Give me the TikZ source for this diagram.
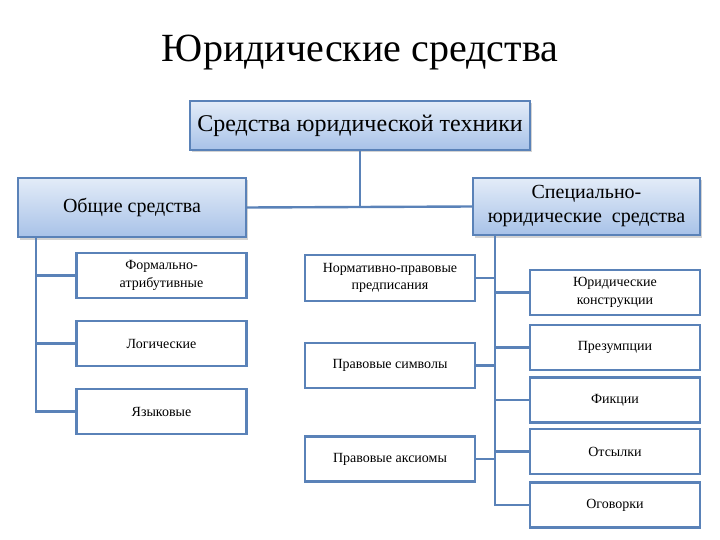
\documentclass[tikz,border=0pt]{standalone}
\usepackage{fontspec}
\setmainfont{Liberation Serif}
\usetikzlibrary{shadows}
\definecolor{lineblue}{HTML}{5A82B8}
\definecolor{gradtop}{HTML}{E3ECF8}
\definecolor{gradbot}{HTML}{A8C2E8}
\tikzset{
  bigbox/.style={draw=lineblue, line width=2.4pt, top color=gradtop, bottom color=gradbot,
    drop shadow={opacity=0.35, shadow xshift=1.5pt, shadow yshift=-2.5pt},
    align=center, inner sep=2pt},
  smallbox/.style={draw=lineblue, line width=2.2pt, fill=white, align=center,
    minimum width=170, minimum height=45, inner sep=2pt,
    font=\fontsize{14}{17.5}\selectfont},
  conn/.style={draw=lineblue, line width=2.4pt}
}
\begin{document}
\begin{tikzpicture}[x=1pt,y=-1pt]
\useasboundingbox (0,0) rectangle (720,540);
\node[font=\fontsize{40}{46}\selectfont] (title) at (360,53) {Юридические средства};

\node[bigbox, minimum width=340, minimum height=49, font=\fontsize{24}{28}\selectfont] (top) at (360,125.5) {Средства юридической техники};
\node[bigbox, minimum width=228, minimum height=59, font=\fontsize{20}{23}\selectfont] (lm) at (132,207.5) {Общие средства};
\node[bigbox, minimum width=227, minimum height=57, font=\fontsize{20}{24}\selectfont] (rm) at (586.5,206.5) {Специально-\\юридические\ \ средства};

\node[smallbox] (l1) at (161.5,275.5) {Формально-\\атрибутивные};
\node[smallbox] (l2) at (161.5,343.5) {Логические};
\node[smallbox] (l3) at (161.5,411.5) {Языковые};

\node[smallbox, minimum height=46] (m1) at (390,278) {Нормативно-правовые\\предписания};
\node[smallbox] (m2) at (390,365.5) {Правовые символы};
\node[smallbox] (m3) at (390,459) {Правовые аксиомы};

\node[smallbox] (r1) at (615,292.5) {Юридические\\конструкции};
\node[smallbox] (r2) at (615,347.5) {Презумпции};
\node[smallbox] (r3) at (615,400) {Фикции};
\node[smallbox] (r4) at (615,451.5) {Отсылки};
\node[smallbox] (r5) at (615,505) {Оговорки};

\coordinate (lv) at ([xshift=19pt]lm.south west);
\coordinate (rv) at ([xshift=23pt]rm.south west);

\draw[conn] (top.south) -- (top.south |- lm.east);
\draw[conn] (lm.east) -- (rm.west);

\draw[conn] (lv) |- (l1.west);
\draw[conn] (lv) |- (l2.west);
\draw[conn] (lv) |- (l3.west);

\draw[conn] (rv) |- (r1.west);
\draw[conn] (rv) |- (r2.west);
\draw[conn] (rv) |- (r3.west);
\draw[conn] (rv) |- (r4.west);
\draw[conn] (rv) |- (r5.west);

\draw[conn] (m1.east) -- (m1.east -| rv);
\draw[conn] (m2.east) -- (m2.east -| rv);
\draw[conn] (m3.east) -- (m3.east -| rv);
\end{tikzpicture}
\end{document}
